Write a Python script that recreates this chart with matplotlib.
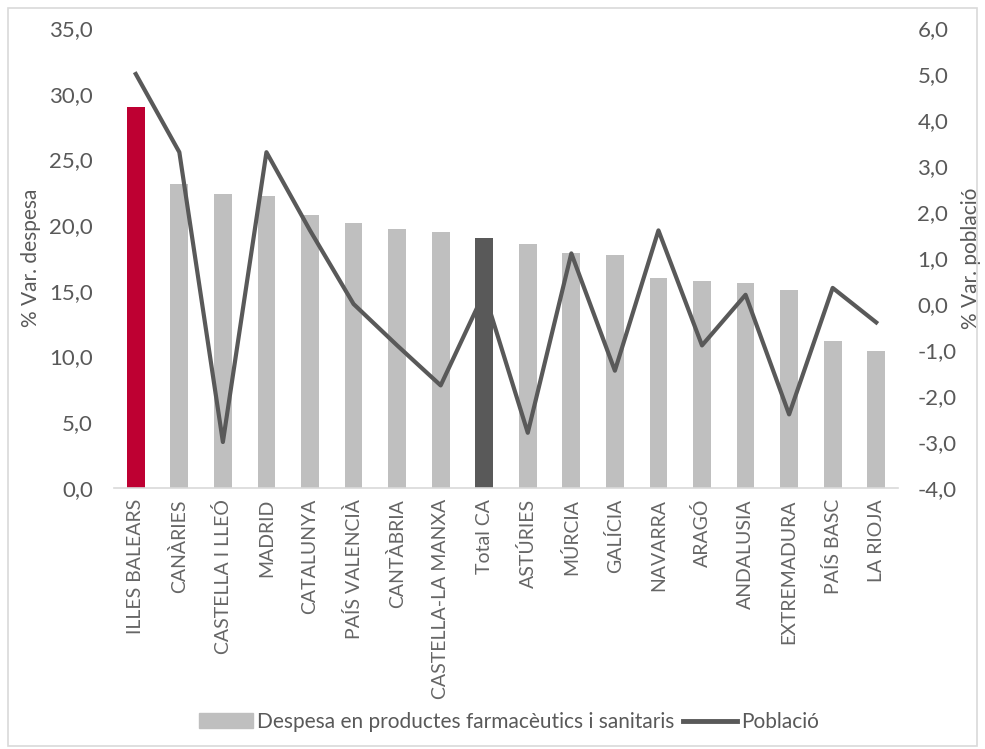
import matplotlib
matplotlib.use('Agg')
import matplotlib.pyplot as plt
from matplotlib.patches import Rectangle
from matplotlib.ticker import FuncFormatter

# data
regions = ['ILLES BALEARS', 'CANÀRIES', 'CASTELLA I LLEÓ', 'MADRID', 'CATALUNYA',
           'PAÍS VALENCIÀ', 'CANTÀBRIA', 'CASTELLA-LA MANXA', 'Total CA', 'ASTÚRIES',
           'MÚRCIA', 'GALÍCIA', 'NAVARRA', 'ARAGÓ', 'ANDALUSIA', 'EXTREMADURA',
           'PAÍS BASC', 'LA RIOJA']
despesa = [29.0, 23.1, 22.4, 22.2, 20.8, 20.2, 19.7, 19.5, 19.0, 18.6,
           17.9, 17.7, 16.0, 15.75, 15.6, 15.1, 11.2, 10.45]
poblacio = [5.0, 3.3, -3.0, 3.3, 1.6, 0.0, -0.9, -1.77, 0.25, -2.8,
            1.1, -1.45, 1.6, -0.9, 0.2, -2.4, 0.35, -0.4]

red = '#BE0032'
grey = '#BFBFBF'
dark = '#595959'
txt = '#595959'

plt.rcParams['font.family'] = ['Lato', 'DejaVu Sans']

fig = plt.figure(figsize=(9.85, 7.49), dpi=100)
fig.patches.append(Rectangle((0.008, 0.004), 0.984, 0.985, transform=fig.transFigure,
                             fill=False, edgecolor='#D9D9D9', lw=1.2))

ax = fig.add_axes([114 / 985, 1 - 488 / 749, (898 - 114) / 985, (488 - 28) / 749])
x = list(range(len(regions)))
colors = [grey] * len(regions)
colors[0] = red
colors[regions.index('Total CA')] = dark
ax.bar(x, despesa, width=0.41, color=colors, zorder=2)
ax.set_ylim(0, 35)
ax.set_xlim(-0.5, len(regions) - 0.5)
ax.set_yticks([0, 5, 10, 15, 20, 25, 30, 35])
fmt = FuncFormatter(lambda v, p: f'{v:.1f}'.replace('.', ','))
ax.yaxis.set_major_formatter(fmt)
ax.set_xticks(x)
ax.set_xticklabels(regions, rotation=90, fontsize=14, color='#666666')
ax.tick_params(axis='y', length=0, labelsize=16, labelcolor=txt, pad=15)
ax.tick_params(axis='x', length=0, pad=8)
for s in ['top', 'right', 'left']:
    ax.spines[s].set_visible(False)
ax.spines['bottom'].set_color('#D9D9D9')
ax.spines['bottom'].set_linewidth(1.2)
ax.set_ylabel('% Var. despesa', fontsize=15, color=txt)
ax.yaxis.set_label_coords((41 - 114) / 784, 0.5)

ax2 = ax.twinx()
ax2.plot(x, poblacio, color=dark, lw=3, zorder=3)
ax2.set_ylim(-4, 6)
ax2.set_yticks(range(-4, 7))
ax2.yaxis.set_major_formatter(fmt)
ax2.tick_params(axis='y', length=0, labelsize=16, labelcolor=txt, pad=14)
for s in ['top', 'right', 'left', 'bottom']:
    ax2.spines[s].set_visible(False)
ax2.set_ylabel('% Var. població', fontsize=15, color=txt)
ax2.yaxis.set_label_coords((961 - 114) / 784, 0.5)

handles = [Rectangle((0, 0), 1, 1, color=grey),
           plt.Line2D([], [], color=dark, lw=3.5)]
fig.legend(handles, ['Despesa en productes farmacèutics i sanitaris', 'Població'],
           loc='center', bbox_to_anchor=(0.517, 0.036), ncol=2, frameon=False,
           fontsize=15, labelcolor=txt, handlelength=2.6, handletextpad=0.2,
           columnspacing=0.4)

fig.savefig('out.png', dpi=100)
